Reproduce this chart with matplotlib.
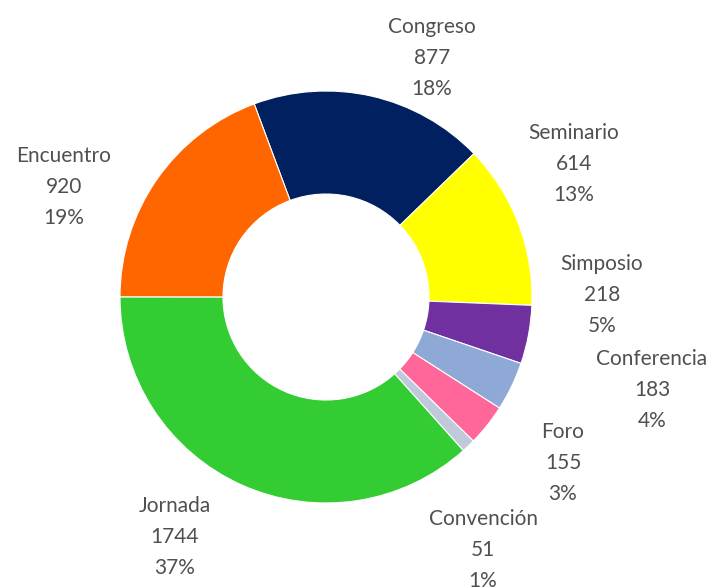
import matplotlib
matplotlib.use("Agg")
import matplotlib.pyplot as plt

categories = ["Congreso", "Seminario", "Simposio", "Conferencia", "Foro",
              "Convención", "Jornada", "Encuentro"]
values = [877, 614, 218, 183, 155, 51, 1744, 920]
percents = ["18%", "13%", "5%", "4%", "3%", "1%", "37%", "19%"]
colors = ["#002060", "#FFFF00", "#7030A0", "#8EA9D6", "#FF6699",
          "#BFC9D9", "#33CC33", "#FF6600"]

# label centre positions in pixel coordinates (x, y from top)
label_pos = [(432, 58), (574, 164), (602, 295), (652, 390), (563, 463),
             (483, 550), (175, 537), (64, 187)]

W, H = 716, 588
fig = plt.figure(figsize=(W / 100, H / 100), dpi=100)
ax = fig.add_axes([0, 0, 1, 1])

cx, cy, R = 326, H - 297, 206
ax.pie(values, colors=colors, startangle=110.4, counterclock=False,
       center=(cx, cy), radius=R, frame=True,
       wedgeprops=dict(width=R * 0.5, edgecolor="white", linewidth=0.8))
ax.set_xlim(0, W)
ax.set_ylim(0, H)
ax.set_aspect("equal")
ax.axis("off")

for name, v, p, (x, y) in zip(categories, values, percents, label_pos):
    ax.text(x, H - y, f"{name}\n{v}\n{p}", ha="center", va="center",
            fontsize=15, color="#505050", family=["Lato", "DejaVu Sans"],
            linespacing=1.68)

fig.savefig("out.png", dpi=100)
